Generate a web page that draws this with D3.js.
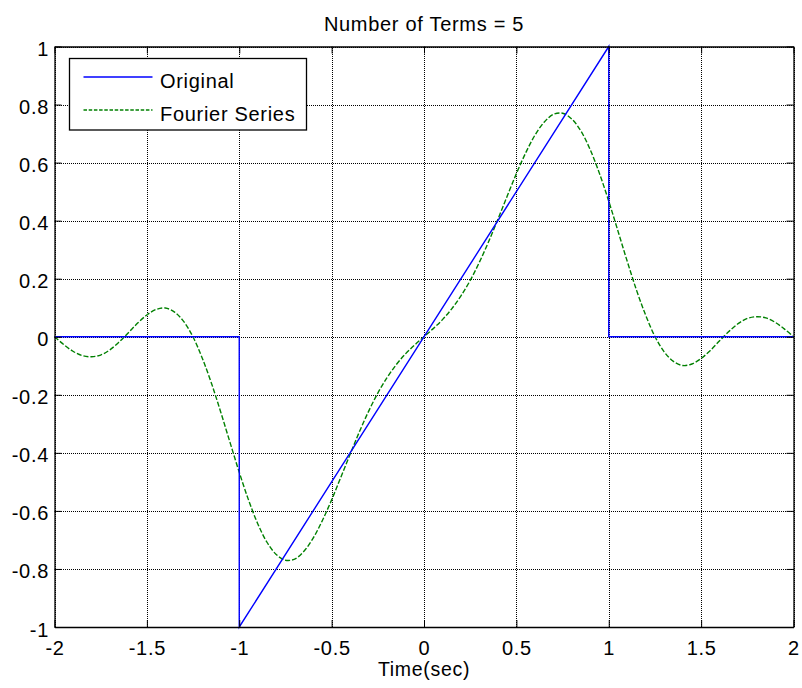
<!DOCTYPE html>
<html>
<head>
<meta charset="utf-8">
<script src="https://cdn.jsdelivr.net/npm/d3@7"></script>
<style>
  body { margin: 0; background: #fff; }
  text { font-family: "Liberation Sans", Arial, sans-serif; font-size: 20px; letter-spacing: 0.7px; fill: #000; }
</style>
</head>
<body>
<div id="graph"></div>
<script>

// tick values and their labels
var xTicks = [-2, -1.5, -1, -0.5, 0, 0.5, 1, 1.5, 2];
var xTickLabels = ["-2", "-1.5", "-1", "-0.5", "0", "0.5", "1", "1.5", "2"];
var yTicks = [-1, -0.8, -0.6, -0.4, -0.2, 0, 0.2, 0.4, 0.6, 0.8, 1];
var yTickLabels = ["-1", "-0.8", "-0.6", "-0.4", "-0.2", "0", "0.2", "0.4", "0.6", "0.8", "1"];

// original signal (corner points)
var origT = [-2, -1, -1, 1, 1, 2];
var origV = [0, 0, -1, 1, 0, 0];

// fourier series, every 0.05 s
var fourT = [-2, -1.95, -1.9, -1.85, -1.8, -1.75, -1.7, -1.65, -1.6, -1.55,
             -1.5, -1.45, -1.4, -1.35, -1.3, -1.25, -1.2, -1.15, -1.1, -1.05,
             -1, -0.95, -0.9, -0.85, -0.8, -0.75, -0.7, -0.65, -0.6, -0.55,
             -0.5, -0.45, -0.4, -0.35, -0.3, -0.25, -0.2, -0.15, -0.1, -0.05,
             0, 0.05, 0.1, 0.15, 0.2, 0.25, 0.3, 0.35, 0.4, 0.45,
             0.5, 0.55, 0.6, 0.65, 0.7, 0.75, 0.8, 0.85, 0.9, 0.95,
             1, 1.05, 1.1, 1.15, 1.2, 1.25, 1.3, 1.35, 1.4, 1.45,
             1.5, 1.55, 1.6, 1.65, 1.7, 1.75, 1.8, 1.85, 1.9, 1.95, 2];
var fourV = [0, -0.027, -0.050, -0.065, -0.069, -0.063, -0.045, -0.018, 0.014, 0.047,
             0.075, 0.094, 0.099, 0.085, 0.052, -0.001, -0.074, -0.161, -0.260, -0.364,
             -0.467, -0.562, -0.644, -0.708, -0.750, -0.770, -0.766, -0.739, -0.694, -0.633,
             -0.562, -0.484, -0.405, -0.328, -0.257, -0.194, -0.141, -0.096, -0.059, -0.028,
             0, 0.028, 0.059, 0.096, 0.141, 0.194, 0.257, 0.328, 0.405, 0.484,
             0.562, 0.633, 0.694, 0.739, 0.766, 0.770, 0.750, 0.708, 0.644, 0.562,
             0.467, 0.364, 0.260, 0.161, 0.074, 0.001, -0.052, -0.085, -0.099, -0.094,
             -0.075, -0.047, -0.014, 0.018, 0.045, 0.063, 0.069, 0.065, 0.050, 0.027, 0];

var seriesNames = ["Original", "Fourier Series"];
var seriesColors = ["#0000ff", "#008000"];

// set the dimensions and margins of the graph
var margin = {top: 46.5, right: 8.5, bottom: 61, left: 54.5},
    width = 802 - margin.left - margin.right,
    height = 688 - margin.top - margin.bottom;

var svg = d3.select("#graph")
  .append("svg")
    .attr("width", 802)
    .attr("height", 688)
  .append("g")
    .attr("transform", "translate(" + margin.left + "," + margin.top + ")");

var x = d3.scaleLinear().domain([-2, 2]).range([0, width]);
var y = d3.scaleLinear().domain([-1, 1]).range([height, 0]);

// dotted grid
var gx = svg.append("g")
  .attr("transform", "translate(0," + height + ")")
  .call(d3.axisBottom(x).tickValues(xTicks).tickSize(-height).tickFormat(""));
var gy = svg.append("g")
  .call(d3.axisLeft(y).tickValues(yTicks).tickSize(-width).tickFormat(""));
[gx, gy].forEach(function(g) {
  g.select(".domain").remove();
  g.selectAll("line")
    .attr("stroke", "#000")
    .attr("stroke-width", 1)
    .attr("shape-rendering", "crispEdges")
    .attr("stroke-dasharray", "1,1");
});

// the two lines
var origData = origT.map(function(t, i) { return {t: t, v: origV[i]}; });
var fourData = fourT.map(function(t, i) { return {t: t, v: fourV[i]}; });

svg.append("path")
  .datum(fourData)
  .attr("fill", "none")
  .attr("stroke", seriesColors[1])
  .attr("stroke-width", 1.4)
  .attr("stroke-dasharray", "5,2")
  .attr("d", d3.line()
    .curve(d3.curveCatmullRom)
    .x(function(d) { return x(d.t); })
    .y(function(d) { return y(d.v); }));

svg.append("path")
  .datum(origData)
  .attr("fill", "none")
  .attr("stroke", seriesColors[0])
  .attr("stroke-width", 1.4)
  .attr("d", d3.line()
    .x(function(d) { return x(d.t); })
    .y(function(d) { return y(d.v); }));

// axes box with inward ticks on all four sides
function boxAxis(axis, tr) {
  var g = svg.append("g")
    .attr("transform", tr)
    .call(axis);
  g.select(".domain").attr("stroke", "#000").attr("stroke-width", 1.3);
  g.selectAll(".tick line").attr("stroke", "#000").attr("stroke-width", 1);
  return g;
}

var bottom = boxAxis(d3.axisBottom(x).tickValues(xTicks).tickSizeInner(-7).tickSizeOuter(0)
  .tickFormat(function(d, i) { return xTickLabels[i]; }), "translate(0," + height + ")");
bottom.selectAll(".tick text")
  .attr("y", 27.5).attr("dy", 0);

boxAxis(d3.axisTop(x).tickValues(xTicks).tickSizeInner(-7).tickSizeOuter(0).tickFormat(""), "translate(0,0)");

var left = boxAxis(d3.axisLeft(y).tickValues(yTicks).tickSizeInner(-7).tickSizeOuter(0)
  .tickFormat(function(d, i) { return yTickLabels[i]; }), "translate(0,0)");
left.selectAll(".tick text")
  .attr("x", -5.5).attr("dy", 9);

boxAxis(d3.axisRight(y).tickValues(yTicks).tickSizeInner(-7).tickSizeOuter(0).tickFormat(""), "translate(" + width + ",0)");

// let the css font win over the axis defaults
svg.selectAll("g").attr("font-size", null).attr("font-family", null);

// title and x label
svg.append("text")
  .attr("text-anchor", "middle")
  .attr("x", width / 2)
  .attr("y", 31 - margin.top)
  .text("Number of Terms = 5");

svg.append("text")
  .attr("text-anchor", "middle")
  .attr("x", width / 2)
  .attr("y", 676 - margin.top)
  .style("font-size", "19.5px")
  .text("Time(sec)");

// legend
var legend = svg.append("g")
  .attr("transform", "translate(" + (69.5 - margin.left) + "," + (58.5 - margin.top) + ")");

legend.append("rect")
  .attr("width", 237)
  .attr("height", 71.5)
  .attr("fill", "#fff")
  .attr("stroke", "#000")
  .attr("stroke-width", 1.3);

var rows = [18.5, 51.5];
seriesNames.forEach(function(name, i) {
  legend.append("line")
    .attr("x1", 14).attr("x2", 83)
    .attr("y1", rows[i]).attr("y2", rows[i])
    .attr("stroke", seriesColors[i])
    .attr("stroke-width", 1.3)
    .attr("stroke-dasharray", i == 1 ? "3.5,1.7" : null);
  legend.append("text")
    .attr("x", 90.5)
    .attr("y", rows[i] + 10.5)
    .text(name);
});

</script>
</body>
</html>
